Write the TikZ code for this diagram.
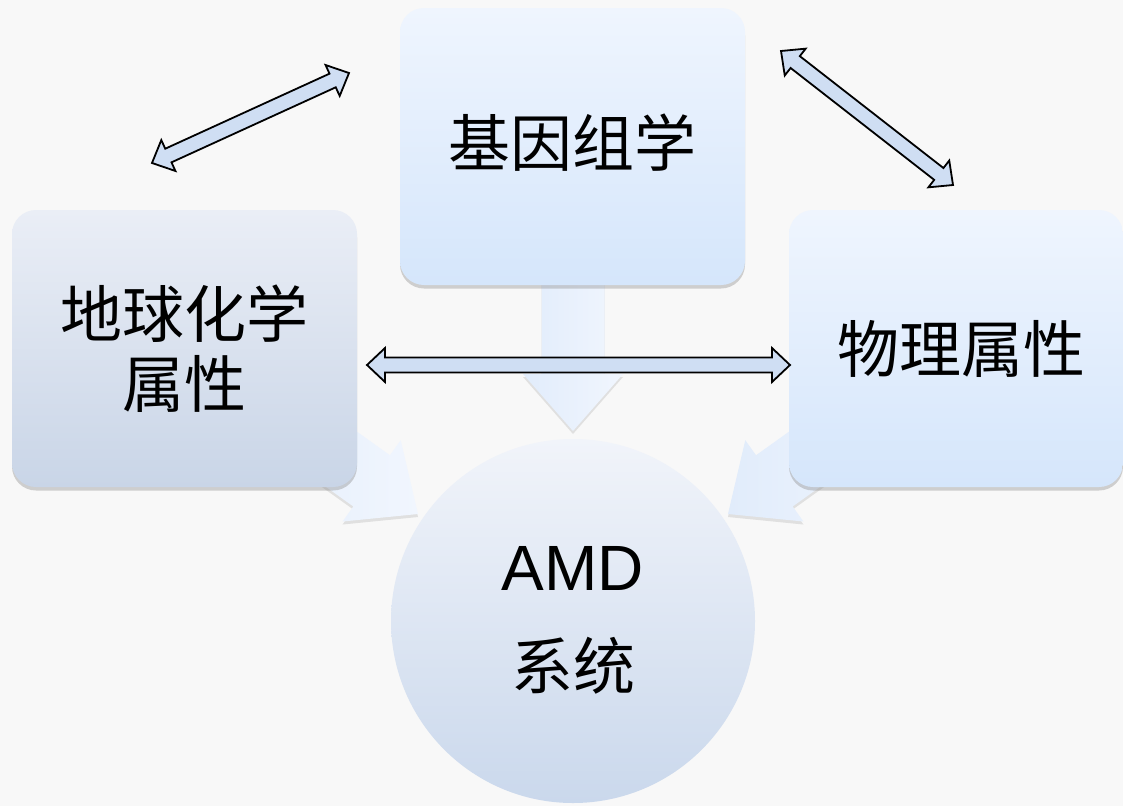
\documentclass[tikz,border=0pt]{standalone}
\usepackage{fontspec}
\usetikzlibrary{calc,shadows}
\newfontfamily\cjk{Noto Sans CJK SC}
\newfontfamily\amdfont{Liberation Sans}

\definecolor{paper}{HTML}{F8F8F8}
\definecolor{blueTop}{HTML}{EFF5FE}
\definecolor{blueBot}{HTML}{D5E6FB}
\definecolor{greyTop}{HTML}{EAEEF6}
\definecolor{greyBot}{HTML}{C9D5E7}
\definecolor{hubTop}{HTML}{F1F4FA}
\definecolor{hubBot}{HTML}{CAD8EC}
\definecolor{flowA}{HTML}{E1ECFB}
\definecolor{flowB}{HTML}{F1F6FE}
\definecolor{linkFill}{HTML}{CFDEF3}

\tikzset{
  box/.style={rectangle, rounded corners=24pt, minimum width=345pt,
    minimum height=277pt, inner sep=0pt, align=center,
    font=\cjk\fontsize{62}{70}\selectfont,
    drop shadow={opacity=0.35, shadow xshift=0pt, shadow yshift=-3.5pt}},
  bluebox/.style={box, top color=blueTop, bottom color=blueBot},
  greybox/.style={box, top color=greyTop, bottom color=greyBot},
  hub/.style={circle, minimum size=364pt, inner sep=0pt,
    top color=hubTop, bottom color=hubBot},
  flow/.style={left color=flowA, right color=flowB,
    drop shadow={opacity=0.2, shadow xshift=0pt, shadow yshift=-3pt}},
  link/.style={fill=linkFill, draw=black, line width=1.8pt, line join=miter},
}

% wide shaded arrow from a tail coordinate to a tip coordinate
\newcommand\flowarrow[2]{%
  \coordinate (#1-#2-h) at ($(#2)!57pt!(#1)$);
  \path[flow] ($(#1)!31.5pt!90:(#2)$) -- ($(#1-#2-h)!31.5pt!90:(#2)$)
    -- ($(#1-#2-h)!50pt!90:(#2)$) -- (#2)
    -- ($(#1-#2-h)!50pt!-90:(#2)$) -- ($(#1-#2-h)!31.5pt!-90:(#2)$)
    -- ($(#1)!31.5pt!-90:(#2)$) -- cycle;}

% outlined double-headed arrow between two coordinates
\newcommand\linkarrow[2]{%
  \coordinate (#1-#2-a) at ($(#1)!18pt!(#2)$);
  \coordinate (#1-#2-b) at ($(#2)!18pt!(#1)$);
  \filldraw[link] (#1)
    -- ($(#1-#2-a)!17pt!90:(#2)$) -- ($(#1-#2-a)!7.5pt!90:(#2)$)
    -- ($(#1-#2-b)!7.5pt!90:(#2)$) -- ($(#1-#2-b)!17pt!90:(#2)$)
    -- (#2)
    -- ($(#1-#2-b)!17pt!-90:(#2)$) -- ($(#1-#2-b)!7.5pt!-90:(#2)$)
    -- ($(#1-#2-a)!7.5pt!-90:(#2)$) -- ($(#1-#2-a)!17pt!-90:(#2)$)
    -- cycle;}

\begin{document}
\begin{tikzpicture}[x=1pt,y=-1pt]
  \fill[paper] (0,0) rectangle (1123,806);
  \useasboundingbox (0,0) rectangle (1123,806);

  % flow arrows into the AMD system (drawn first, boxes cover their tails)
  \coordinate (gTail) at (573,240);
  \coordinate (gTip)  at (573,431);
  \coordinate (cTail) at (239,386);
  \coordinate (cTip)  at (418,514);
  \coordinate (pTail) at (907,386);
  \coordinate (pTip)  at (728,514);
  \flowarrow{gTail}{gTip}
  \flowarrow{cTail}{cTip}
  \flowarrow{pTail}{pTip}

  % the three sources
  \node[bluebox] (genome) at (572.5,146.5) {\raisebox{12pt}{基因组学}};
  \node[greybox] (chem)   at (184.5,348.5) {地球化学\\属性};
  \node[bluebox, minimum width=334pt] (phys) at (956,348.5)
    {\hspace*{10pt}物理属性};

  % the AMD system
  \node[hub] (amd) at (573,621) {};
  \node[anchor=base, font=\amdfont\fontsize{64}{70}\selectfont]
    at ($(amd.center)+(0,-31)$) {AMD};
  \node[anchor=base, font=\cjk\fontsize{62}{70}\selectfont]
    at ($(amd.center)+(0,68)$) {系统};

  % mutual links between sources
  \coordinate (l1) at (152,163);
  \coordinate (l2) at (349,73);
  \coordinate (r1) at (781,51);
  \coordinate (r2) at (953,185);
  \coordinate (h1) at (367,365);
  \coordinate (h2) at (790,365);
  \linkarrow{l1}{l2}
  \linkarrow{r1}{r2}
  \linkarrow{h1}{h2}
\end{tikzpicture}
\end{document}
